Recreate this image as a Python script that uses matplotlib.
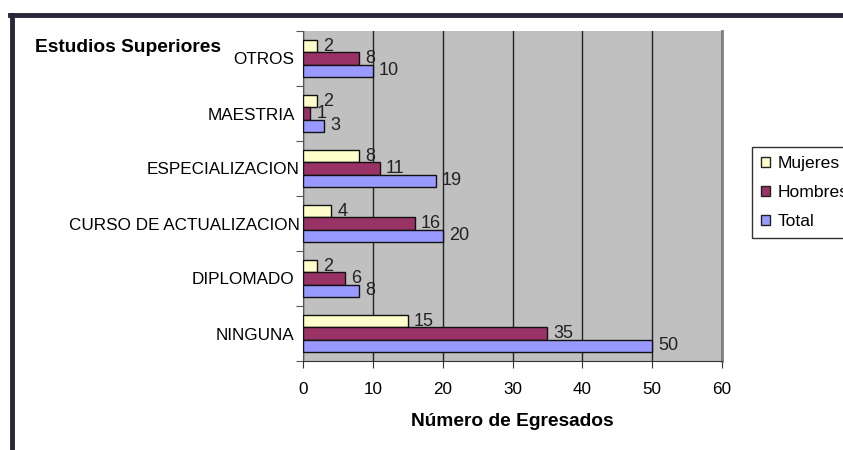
import matplotlib.pyplot as plt
from matplotlib.patches import Patch
from matplotlib.transforms import ScaledTranslation
import numpy as np

plt.rcParams['font.family'] = ['Liberation Sans', 'DejaVu Sans']

categorias = ['OTROS', 'MAESTRIA', 'ESPECIALIZACION', 'CURSO DE ACTUALIZACION',
              'DIPLOMADO', 'NINGUNA']
mujeres = [2, 2, 8, 4, 2, 15]
hombres = [8, 1, 11, 16, 6, 35]
total = [10, 3, 19, 20, 8, 50]
series = ['Mujeres', 'Hombres', 'Total']
colores = ['#FFFFCC', '#993366', '#9999FF']

W, H = 843, 450
fig = plt.figure(figsize=(W / 100, H / 100), dpi=100)
ax = fig.add_axes([303 / W, 1 - 361 / H, 419 / W, 330 / H])
ax.set_facecolor('#C0C0C0')

y = np.arange(len(categorias))
h = 0.222
for k, (vals, col) in enumerate(zip([mujeres, hombres, total], colores)):
    pos = y + (k - 1) * h
    bars = ax.barh(pos, vals, height=h, color=col, edgecolor='#111111',
                   linewidth=1, zorder=3, label=series[k])
    for b, v in zip(bars, vals):
        ax.annotate(str(v), (v, b.get_y() + b.get_height() / 2), xytext=(4.5, 0),
                    textcoords='offset points', va='center', ha='left',
                    fontsize=13, color='#222222', zorder=4)

ax.set_xlim(0, 60)
ax.set_ylim(len(categorias) - 0.5, -0.5)
ax.set_xticks(range(0, 61, 10))
ax.set_yticks(np.arange(-0.5, len(categorias), 1))
ax.set_yticklabels([])
ax.set_yticks(y, minor=True)
ax.set_yticklabels(categorias, minor=True, fontsize=12.3)
ax.tick_params(axis='y', which='minor', length=0, pad=6)
ax.tick_params(axis='y', which='major', length=5, color='#555555')
ax.tick_params(axis='x', length=5, color='#333333', labelsize=12.3, pad=10)
ax.xaxis.grid(True, color='#222222', linewidth=1, zorder=1)
ax.set_axisbelow(True)

# las etiquetas largas quedan pegadas al eje
for lab in ax.get_yticklabels(minor=True):
    if len(lab.get_text()) > 12:
        lab.set_transform(lab.get_transform() + ScaledTranslation(5 / 100, 0, fig.dpi_scale_trans))

ax.spines['top'].set_visible(False)
ax.spines['right'].set_color('#808080')
ax.spines['right'].set_linewidth(2)
ax.spines['left'].set_color('#555555')
ax.spines['bottom'].set_color('#333333')

ax.set_xlabel('Número de Egresados', fontsize=13.8, fontweight='bold', labelpad=12)
fig.text(35 / W, 1 - 47 / H, 'Estudios Superiores', fontsize=13.8, fontweight='bold',
         va='center', ha='left')

handles = [Patch(facecolor=c, edgecolor='#222222', label=s) for c, s in zip(colores, series)]
leg = fig.legend(handles=handles, loc='upper left', bbox_to_anchor=(752 / W, 1 - 147 / H),
                 fontsize=12.6, frameon=True, fancybox=False, edgecolor='black',
                 handlelength=0.5, handleheight=0.5, handletextpad=0.45,
                 labelspacing=0.8, borderpad=0.5, borderaxespad=0)
leg.get_frame().set_linewidth(1)

# marco exterior
fig.add_artist(plt.Line2D([11.5 / W, 11.5 / W], [0, 1 - 15 / H], color='#2B2538',
                          linewidth=3.5, transform=fig.transFigure))
fig.add_artist(plt.Line2D([10 / W, 1], [1 - 15 / H, 1 - 15 / H], color='#2B2538',
                          linewidth=3.5, transform=fig.transFigure))

fig.savefig('out.png', dpi=100)
